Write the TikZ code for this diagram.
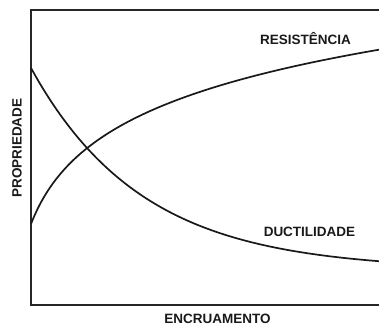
\documentclass[tikz,border=0pt]{standalone}
\usepackage{fontspec}
\setmainfont{Liberation Sans}
\begin{document}
\begin{tikzpicture}[x=1bp,y=-1bp,
  lbl/.style={font=\fontsize{13.5bp}{16bp}\selectfont\bfseries, inner sep=0pt, text=black!90},
  frame/.style={line width=2bp, black!85},
  curve/.style={line width=1.7bp, black!90}]
\useasboundingbox (0,0) rectangle (379,326);
\coordinate (tr) at (379,10);
\coordinate (tl) at (31,10);
\coordinate (bl) at (31,305);
\coordinate (br) at (379,305);
\draw[frame] (tr) -- (tl) -- (bl) -- (br);
\draw[curve] plot[domain=0:348, samples=200, smooth] ({31+\x},{224-64.5*ln(1+\x/25)});
\draw[curve] plot[domain=0:348, samples=120, smooth] ({31+\x},{68+202*(1-exp(-0.009*\x))});
\node[lbl] (res) at (305.5,39) {RESISTÊNCIA};
\node[lbl] (duc) at (309.5,231.5) {DUCTILIDADE};
\node[lbl, rotate=90] (prop) at (17,148) {PROPRIEDADE};
\node[lbl] (enc) at (217.5,319) {ENCRUAMENTO};
\end{tikzpicture}
\end{document}
